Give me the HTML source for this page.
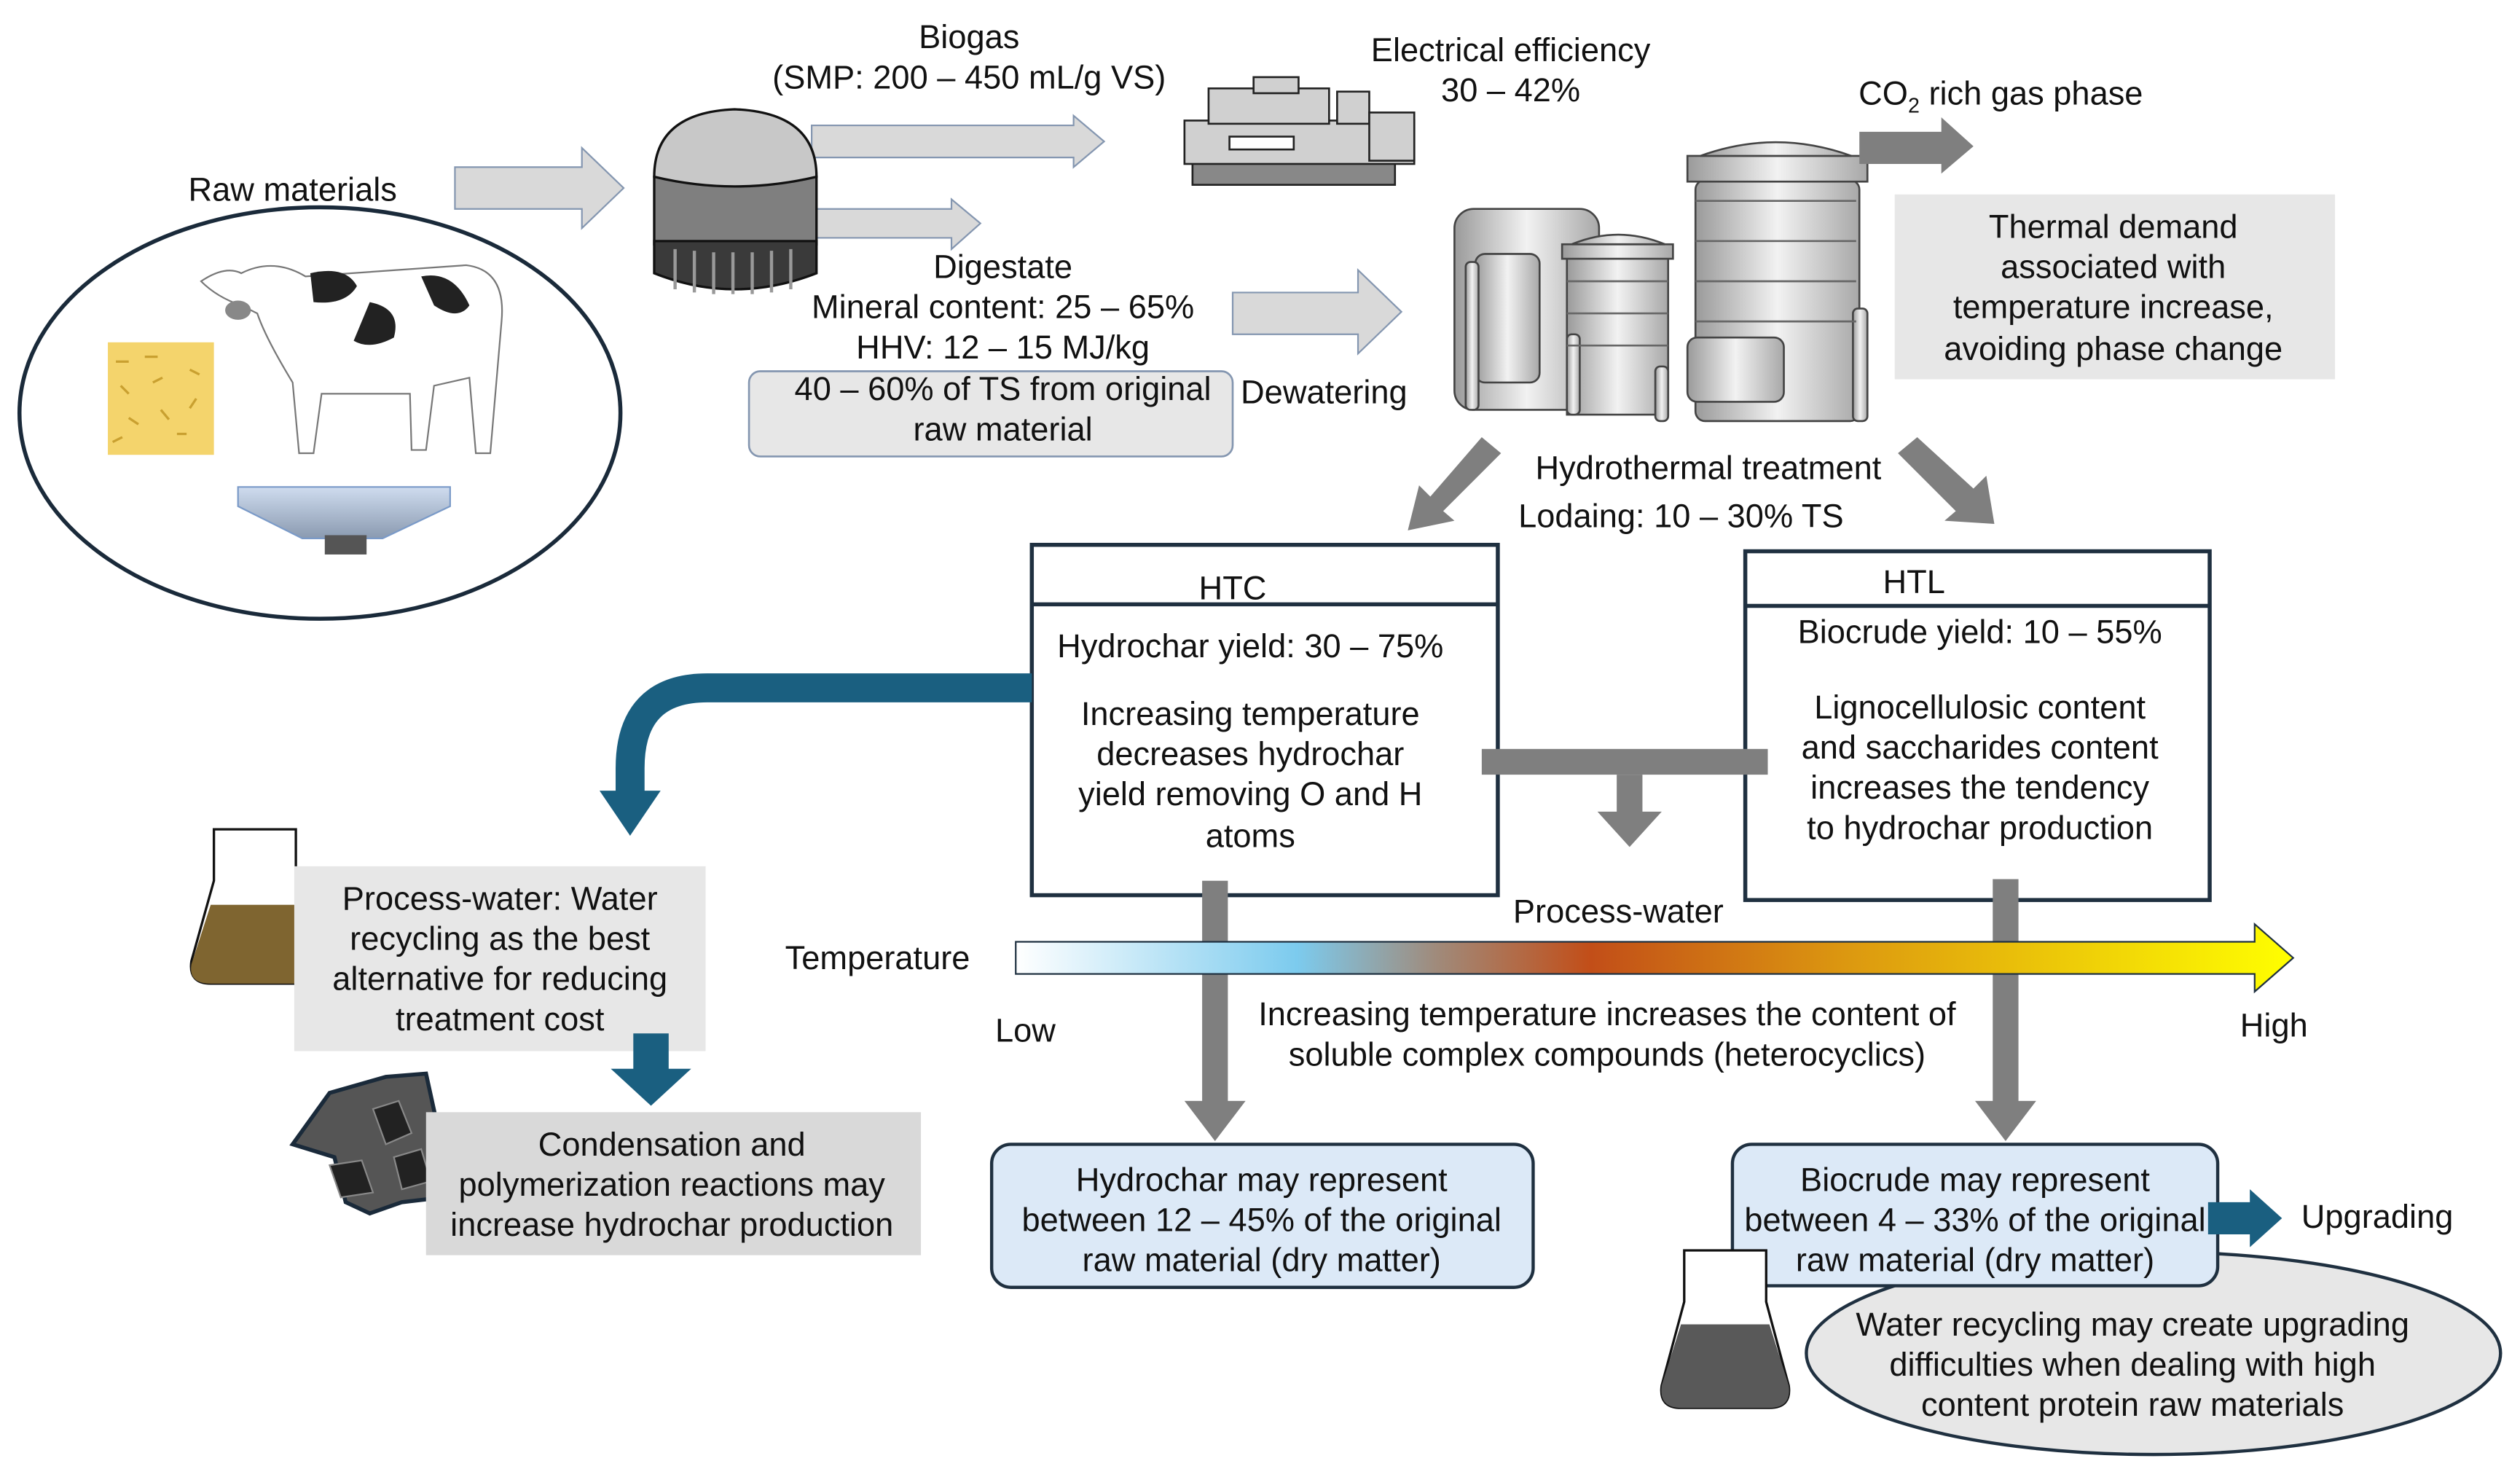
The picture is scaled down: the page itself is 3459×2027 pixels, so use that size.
<!DOCTYPE html>
<html><head><meta charset="utf-8"><style>
html,body{margin:0;padding:0;background:#fff;}
svg{display:block;}
text{font-family:"Liberation Sans",Arial,sans-serif;font-size:20.5px;fill:#111;}
</style></head><body>
<svg width="3459" height="2027" viewBox="0 0 1568 919" xmlns="http://www.w3.org/2000/svg">
<defs>
<linearGradient id="tg" x1="0" x2="1" y1="0" y2="0">
<stop offset="0" stop-color="#ffffff"/>
<stop offset="0.22" stop-color="#7ccbee"/>
<stop offset="0.33" stop-color="#a08a7a"/>
<stop offset="0.45" stop-color="#c24e18"/>
<stop offset="0.65" stop-color="#dc9810"/>
<stop offset="1" stop-color="#ffff00"/>
</linearGradient>
<linearGradient id="met" x1="0" x2="1"><stop offset="0" stop-color="#9a9a9a"/><stop offset="0.5" stop-color="#f2f2f2"/><stop offset="1" stop-color="#a8a8a8"/></linearGradient>
<linearGradient id="set" x1="0" x2="0" y1="0" y2="1"><stop offset="0" stop-color="#cfdcef"/><stop offset="1" stop-color="#8a9ab0"/></linearGradient>
</defs>

<text x="182" y="125" text-anchor="middle">Raw materials</text>
<ellipse cx="199" cy="257" rx="187" ry="128" fill="#fff" stroke="#1a2a3a" stroke-width="2.5"/>
<rect x="67" y="213" width="66" height="70" fill="#f4d46c"/>
<path d="M72 225h8M90 222h8M75 240l5 5M95 238l6-3M80 260l6 4M100 255l5 6M110 270h6M70 275l6-3M118 230l6 3M122 248l-4 6" stroke="#c9a030" stroke-width="1.5"/>
<path d="M150 170 Q170 160 190 172 L290 165 Q315 168 312 200 L305 282 L296 282 L292 235 L270 240 L265 280 L256 280 L255 245 L200 245 L195 282 L186 282 L182 238 Q165 210 160 195 L150 190 Q135 185 125 175 Q140 165 150 170 Z" fill="#fff" stroke="#777" stroke-width="1"/>
<path d="M193 170 Q215 165 222 178 Q215 190 195 188 Z" fill="#222"/>
<path d="M262 172 Q282 168 292 190 Q285 200 270 190 Z" fill="#222"/>
<path d="M230 188 Q250 192 245 210 Q230 218 220 212 Z" fill="#222"/>
<ellipse cx="148" cy="193" rx="8" ry="6" fill="#888"/>
<path d="M148 303 H280 V315 L238 335 H188 L148 315 Z" fill="url(#set)" stroke="#7a9ac8" stroke-width="1"/>
<rect x="202" y="333" width="26" height="12" fill="#555"/>

<path d="M283 104 H362 V92 L388 117 L362 142 V130 H283 Z" fill="#d9d9d9" stroke="#8496b0" stroke-width="1"/>
<path d="M505 78 H668 V72 L687 88 L668 104 V98 H505 Z" fill="#d9d9d9" stroke="#8496b0" stroke-width="1"/>
<path d="M505 130 H592 V124 L610 139 L592 155 V148 H505 Z" fill="#d9d9d9" stroke="#8496b0" stroke-width="1"/>
<path d="M767 182 H845 V168 L872 194 L845 220 V208 H767 Z" fill="#d9d9d9" stroke="#8496b0" stroke-width="1"/>

<rect x="407" y="110" width="101" height="42" fill="#7f7f7f" stroke="#111" stroke-width="1.5"/>
<path d="M407 150 V170 Q457 190 508 170 V150 Z" fill="#3a3a3a" stroke="#111" stroke-width="1.5"/>
<path d="M420 155V180M432 156V182M444 157V183M456 157V183M468 157V183M480 156V182M492 155V180" stroke="#999" stroke-width="2"/>
<path d="M407 110 Q407 70 457 68 Q508 70 508 110 Q457 122 407 110 Z" fill="#c8c8c8" stroke="#111" stroke-width="1.5"/>

<text x="603" y="30" text-anchor="middle">Biogas</text>
<text x="603" y="55" text-anchor="middle">(SMP: 200 – 450 mL/g VS)</text>

<g stroke="#222" stroke-width="1.2" fill="#d0d0d0">
<rect x="742" y="100" width="126" height="15" fill="#888"/>
<rect x="737" y="75" width="143" height="27"/>
<rect x="752" y="55" width="75" height="22"/>
<rect x="780" y="48" width="28" height="10"/>
<rect x="832" y="57" width="20" height="20"/>
<rect x="852" y="70" width="28" height="30"/>
<rect x="765" y="85" width="40" height="8" fill="#fff"/>
</g>
<text x="940" y="38" text-anchor="middle">Electrical efficiency</text>
<text x="940" y="63" text-anchor="middle">30 – 42%</text>

<text x="624" y="173" text-anchor="middle">Digestate</text>
<text x="624" y="198" text-anchor="middle">Mineral content: 25 – 65%</text>
<text x="624" y="223" text-anchor="middle">HHV: 12 – 15 MJ/kg</text>
<rect x="466" y="231" width="301" height="53" rx="7" fill="#e7e7e7" stroke="#8496b0" stroke-width="1.2"/>
<text x="624" y="249" text-anchor="middle">40 – 60% of TS from original</text>
<text x="624" y="274" text-anchor="middle">raw material</text>
<text x="772" y="251">Dewatering</text>

<g stroke="#444" stroke-width="1.2" fill="url(#met)">
<rect x="905" y="130" width="90" height="125" rx="12"/>
<rect x="1055" y="112" width="102" height="150" rx="6"/>
<rect x="1050" y="97" width="112" height="16"/>
<path d="M1058 97 Q1105 80 1152 97 Z"/>
<rect x="975" y="158" width="63" height="100"/>
<rect x="972" y="152" width="69" height="9"/>
<path d="M978 152 Q1007 140 1036 152 Z"/>
<rect x="918" y="158" width="40" height="80" rx="6"/>
<rect x="912" y="163" width="8" height="92" rx="3"/>
<rect x="1030" y="228" width="8" height="34" rx="3"/>
<rect x="1153" y="192" width="9" height="70" rx="3"/>
<rect x="1050" y="210" width="60" height="40" rx="6"/>
<rect x="975" y="208" width="8" height="50" rx="3"/>
</g>
<path d="M1055 125H1155M1055 150H1155M1055 175H1155M1055 200H1155M975 175H1038M975 195H1038M975 215H1038" stroke="#666" stroke-width="1.2"/>

<path d="M1157 82 H1208 V73 L1228 91 L1208 108 V102 H1157 Z" fill="#7f7f7f"/>
<text x="1245" y="65" text-anchor="middle">CO<tspan dy="5" style="font-size:13px">2</tspan><tspan dy="-5"> rich gas phase</tspan></text>
<rect x="1179" y="121" width="274" height="115" fill="#e7e7e7"/>
<text x="1315" y="148" text-anchor="middle">Thermal demand</text>
<text x="1315" y="173" text-anchor="middle">associated with</text>
<text x="1315" y="198" text-anchor="middle">temperature increase,</text>
<text x="1315" y="224" text-anchor="middle">avoiding phase change</text>

<path d="M922 272 L934 282 L898 318 L905 324 L876 330 L883 302 L890 309 Z" fill="#7f7f7f"/>
<path d="M1193 272 L1181 282 L1217 318 L1210 324 L1241 326 L1236 296 L1228 304 Z" fill="#7f7f7f"/>
<text x="1063" y="298" text-anchor="middle">Hydrothermal treatment</text>
<text x="1046" y="328" text-anchor="middle">Lodaing: 10 – 30% TS</text>

<rect x="642" y="339" width="290" height="218" fill="#fff" stroke="#1f3040" stroke-width="2.5"/>
<line x1="642" y1="376" x2="932" y2="376" stroke="#1f3040" stroke-width="2.5"/>
<text x="767" y="373" text-anchor="middle">HTC</text>
<text x="778" y="409" text-anchor="middle">Hydrochar yield: 30 – 75%</text>
<text x="778" y="451" text-anchor="middle">Increasing temperature</text>
<text x="778" y="476" text-anchor="middle">decreases hydrochar</text>
<text x="778" y="501" text-anchor="middle">yield removing O and H</text>
<text x="778" y="527" text-anchor="middle">atoms</text>

<rect x="1086" y="343" width="289" height="217" fill="#fff" stroke="#1f3040" stroke-width="2.5"/>
<line x1="1086" y1="377" x2="1375" y2="377" stroke="#1f3040" stroke-width="2.5"/>
<text x="1191" y="369" text-anchor="middle">HTL</text>
<text x="1232" y="400" text-anchor="middle">Biocrude yield: 10 – 55%</text>
<text x="1232" y="447" text-anchor="middle">Lignocellulosic content</text>
<text x="1232" y="472" text-anchor="middle">and saccharides content</text>
<text x="1232" y="497" text-anchor="middle">increases the tendency</text>
<text x="1232" y="522" text-anchor="middle">to hydrochar production</text>

<rect x="922" y="466" width="178" height="16" fill="#7f7f7f"/>
<path d="M1006 482 H1022 V505 H1034 L1014 527 L994 505 H1006 Z" fill="#7f7f7f"/>

<path d="M748 548 H764 V685 H775 L756 710 L737 685 H748 Z" fill="#7f7f7f"/>
<path d="M1240 547 H1256 V685 H1267 L1248 710 L1229 685 H1240 Z" fill="#7f7f7f"/>

<path d="M632 586 H1403 V575 L1427 596 L1403 617 V606 H632 Z" fill="url(#tg)" stroke="#1f3040" stroke-width="1"/>
<text x="546" y="603" text-anchor="middle">Temperature</text>
<text x="638" y="648" text-anchor="middle">Low</text>
<text x="1415" y="645" text-anchor="middle">High</text>
<text x="1007" y="574" text-anchor="middle">Process-water</text>
<text x="1000" y="638" text-anchor="middle">Increasing temperature increases the content of</text>
<text x="1000" y="663" text-anchor="middle">soluble complex compounds (heterocyclics)</text>

<path d="M642 428 H440 Q392 428 392 478 V495" fill="none" stroke="#1a5f80" stroke-width="18"/>
<path d="M373 492 H411 L392 520 Z" fill="#1a5f80"/>

<path d="M133 516 H184 V548 L198 598 Q200 612 186 612 H131 Q117 612 119 598 L133 548 Z" fill="#fff" stroke="#111" stroke-width="1.5"/>
<path d="M131 563 H186 L198 600 Q200 612 186 612 H131 Q117 612 119 600 Z" fill="#7f6530"/>

<rect x="183" y="539" width="256" height="115" fill="#e7e7e7"/>
<text x="311" y="566" text-anchor="middle">Process-water: Water</text>
<text x="311" y="591" text-anchor="middle">recycling as the best</text>
<text x="311" y="616" text-anchor="middle">alternative for reducing</text>
<text x="311" y="641" text-anchor="middle">treatment cost</text>
<path d="M394 643 H416 V665 H430 L405 688 L380 665 H394 Z" fill="#1a5f80"/>

<path d="M205 680 L240 670 L265 668 L272 700 L276 745 L250 748 L230 755 L215 748 L208 720 L182 712 Z" fill="#555" stroke="#1a2a3a" stroke-width="2.5"/>
<path d="M232 690 L248 685 L256 705 L240 712 Z M205 725 L225 722 L232 742 L212 745 Z M245 720 L262 715 L268 735 L250 740 Z" fill="#222" stroke="#888" stroke-width="1"/>

<rect x="265" y="692" width="308" height="89" fill="#d9d9d9"/>
<text x="418" y="719" text-anchor="middle">Condensation and</text>
<text x="418" y="744" text-anchor="middle">polymerization reactions may</text>
<text x="418" y="769" text-anchor="middle">increase hydrochar production</text>

<rect x="617" y="712" width="337" height="89" rx="12" fill="#dce9f7" stroke="#1f3040" stroke-width="2"/>
<text x="785" y="741" text-anchor="middle">Hydrochar may represent</text>
<text x="785" y="766" text-anchor="middle">between 12 – 45% of the original</text>
<text x="785" y="791" text-anchor="middle">raw material (dry matter)</text>

<ellipse cx="1340" cy="842" rx="216" ry="63" fill="#e7e7e7" stroke="#1f3040" stroke-width="2"/>
<rect x="1078" y="712" width="302" height="88" rx="12" fill="#dce9f7" stroke="#1f3040" stroke-width="2"/>
<text x="1229" y="741" text-anchor="middle">Biocrude may represent</text>
<text x="1229" y="766" text-anchor="middle">between 4 – 33% of the original</text>
<text x="1229" y="791" text-anchor="middle">raw material (dry matter)</text>
<path d="M1374 748 H1400 V740 L1420 758 L1400 776 V768 H1374 Z" fill="#1a5f80"/>
<text x="1432" y="764">Upgrading</text>
<text x="1327" y="831" text-anchor="middle">Water recycling may create upgrading</text>
<text x="1327" y="856" text-anchor="middle">difficulties when dealing with high</text>
<text x="1327" y="881" text-anchor="middle">content protein raw materials</text>

<path d="M1048 778 H1099 V810 L1113 862 Q1115 876 1101 876 H1046 Q1032 876 1034 862 L1048 810 Z" fill="#fff" stroke="#111" stroke-width="1.5"/>
<path d="M1046 824 H1101 L1113 862 Q1115 876 1101 876 H1046 Q1032 876 1034 862 Z" fill="#595959"/>
</svg>
</body></html>
